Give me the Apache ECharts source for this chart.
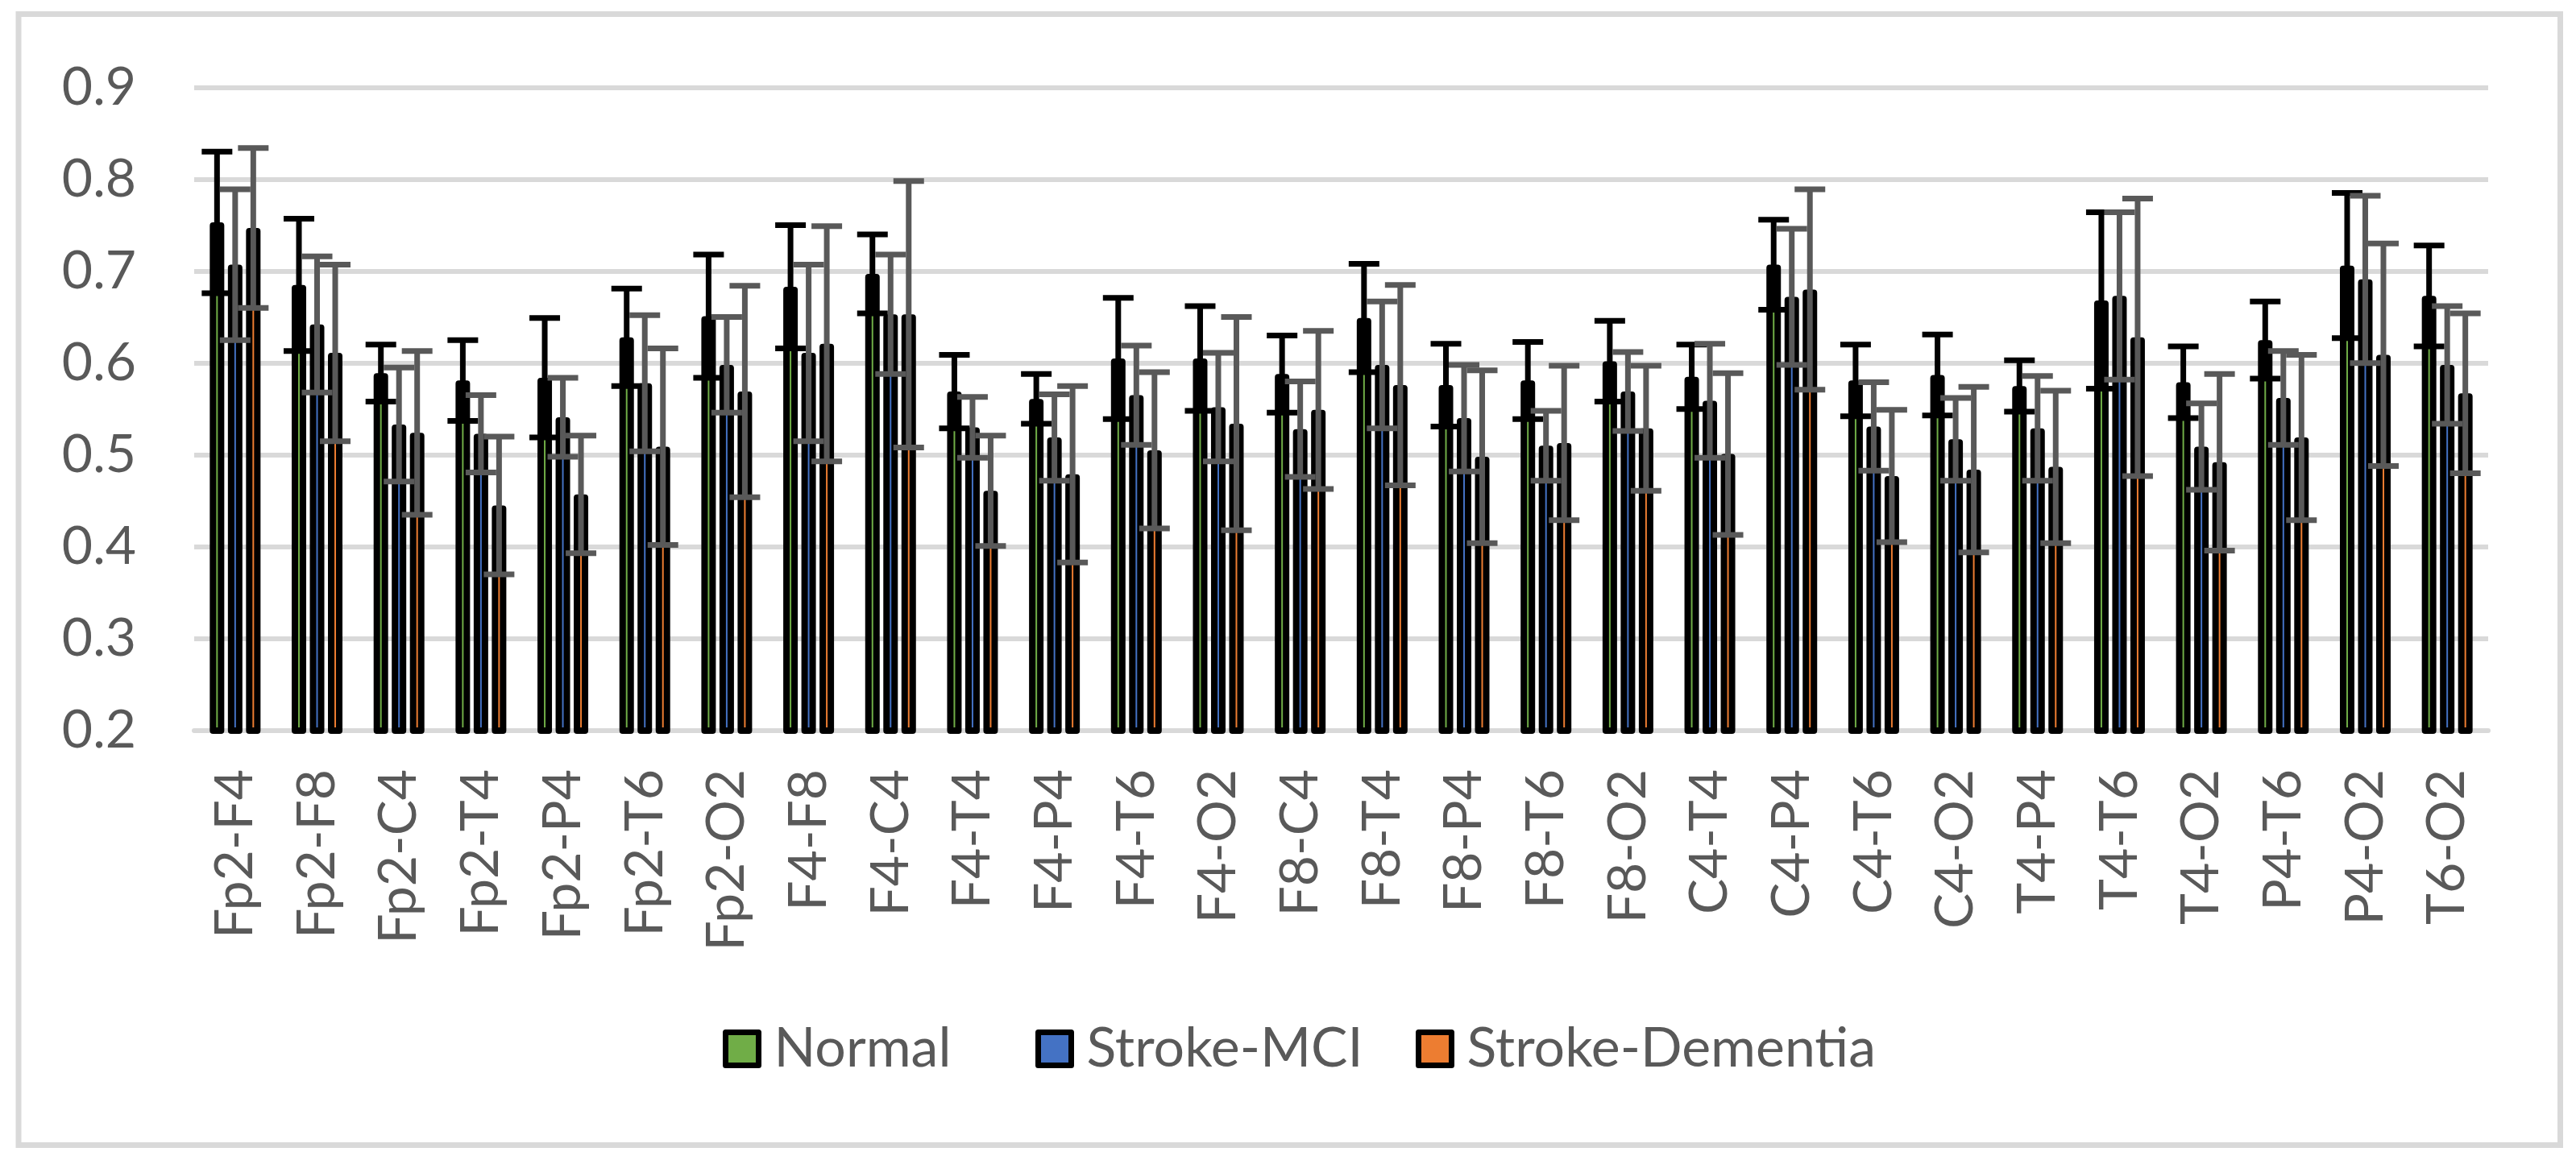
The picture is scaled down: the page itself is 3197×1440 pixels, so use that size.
<!DOCTYPE html>
<html>
<head>
<meta charset="utf-8">
<script src="https://cdn.jsdelivr.net/npm/echarts@6/dist/echarts.min.js"></script>
<style>
html,body{margin:0;padding:0;background:#fff;}
#c{width:3197px;height:1440px;}
</style>
</head>
<body>
<div id="c"></div>
<script>
const categories = ['Fp2-F4','Fp2-F8','Fp2-C4','Fp2-T4','Fp2-P4','Fp2-T6','Fp2-O2','F4-F8','F4-C4','F4-T4','F4-P4','F4-T6','F4-O2','F8-C4','F8-T4','F8-P4','F8-T6','F8-O2','C4-T4','C4-P4','C4-T6','C4-O2','T4-P4','T4-T6','T4-O2','P4-T6','P4-O2','T6-O2'];
const yTicks = [0.2,0.3,0.4,0.5,0.6,0.7,0.8,0.9];
const normal   = [0.753,0.685,0.589,0.581,0.584,0.628,0.651,0.683,0.697,0.569,0.561,0.605,0.605,0.588,0.649,0.576,0.581,0.602,0.585,0.707,0.581,0.587,0.575,0.668,0.579,0.625,0.706,0.673];
const normalSD = [0.077,0.072,0.031,0.044,0.065,0.053,0.067,0.067,0.043,0.040,0.027,0.066,0.057,0.042,0.059,0.045,0.042,0.044,0.035,0.049,0.039,0.044,0.028,0.096,0.039,0.042,0.079,0.055];
const mci      = [0.707,0.642,0.533,0.523,0.541,0.578,0.598,0.611,0.653,0.530,0.519,0.565,0.552,0.528,0.598,0.540,0.510,0.569,0.559,0.672,0.531,0.517,0.529,0.673,0.509,0.562,0.691,0.598];
const mciSD    = [0.082,0.074,0.062,0.042,0.043,0.074,0.052,0.096,0.065,0.033,0.047,0.054,0.059,0.052,0.069,0.058,0.038,0.043,0.062,0.074,0.048,0.045,0.057,0.091,0.047,0.051,0.091,0.064];
const dementia   = [0.747,0.611,0.524,0.445,0.457,0.509,0.569,0.621,0.653,0.461,0.479,0.505,0.534,0.549,0.576,0.498,0.513,0.529,0.501,0.680,0.477,0.484,0.487,0.628,0.492,0.519,0.609,0.567];
const dementiaSD = [0.087,0.096,0.089,0.075,0.064,0.107,0.115,0.128,0.145,0.060,0.096,0.085,0.116,0.086,0.109,0.094,0.084,0.068,0.088,0.109,0.072,0.090,0.083,0.151,0.096,0.090,0.121,0.087];
const seriesNames = ['Normal','Stroke-MCI','Stroke-Dementia'];

const FONT = 'Lato';
const TXT = '#595959';
const GRID = '#d9d9d9';
const BAR_W = 18, BAR_GAP = '25%', BAR_STEP = 22.5;
const LEGEND_LEFT = [892, 1280, 1752];

function barSeries(name, vals, color) {
  return {
    name: name, type: 'bar', data: vals,
    barWidth: BAR_W, barGap: BAR_GAP,
    itemStyle: {color: color, borderColor: '#000', borderWidth: 8, borderJoin: 'round'},
    z: 2
  };
}
function errSeries(vals, sds, offset, color) {
  return {
    type: 'custom', z: 5, silent: true,
    data: vals.map((v, i) => [i, v, sds[i]]),
    encode: {x: 0, y: 1},
    renderItem: function (params, api) {
      const i = api.value(0), v = api.value(1), s = api.value(2);
      const top = api.coord([i, v + s]);
      const bot = api.coord([i, v - s]);
      const x = top[0] + offset;
      const st = {stroke: color, lineWidth: 7};
      return {type: 'group', children: [
        {type: 'line', shape: {x1: x, y1: top[1], x2: x, y2: bot[1]}, style: st},
        {type: 'line', shape: {x1: x - 19, y1: top[1], x2: x + 19, y2: top[1]}, style: st},
        {type: 'line', shape: {x1: x - 19, y1: bot[1], x2: x + 19, y2: bot[1]}, style: st}
      ]};
    }
  };
}
function legendFor(name, left) {
  return {
    data: [name], left: left, top: 1263,
    icon: 'rect', itemWidth: 41, itemHeight: 41,
    itemStyle: {borderColor: '#000', borderWidth: 7},
    textStyle: {fontFamily: FONT, fontSize: 68, color: TXT, padding: [0, 0, 0, 14]}
  };
}

const chart = echarts.init(document.getElementById('c'));
chart.setOption({
  animation: false,
  backgroundColor: '#fff',
  graphic: [{
    type: 'rect', shape: {x: 23, y: 17.5, width: 3154.5, height: 1404},
    style: {fill: 'none', stroke: GRID, lineWidth: 7}, z: 0
  }],
  grid: {left: 241, right: 109, top: 108.4, bottom: 533, containLabel: false},
  legend: seriesNames.map((n, k) => legendFor(n, LEGEND_LEFT[k])),
  xAxis: {
    type: 'category', data: categories,
    axisLine: {onZero: false, lineStyle: {color: GRID, width: 6}},
    axisTick: {show: false},
    axisLabel: {rotate: 90, margin: 48, interval: 0, fontFamily: FONT, fontSize: 66, color: TXT}
  },
  yAxis: {
    type: 'value', min: yTicks[0], max: yTicks[yTicks.length - 1], interval: 0.1,
    axisLine: {show: false}, axisTick: {show: false},
    splitLine: {lineStyle: {color: GRID, width: 6}},
    axisLabel: {margin: 72, fontFamily: FONT, fontSize: 66, color: TXT,
      formatter: v => v.toFixed(1)}
  },
  series: [
    barSeries(seriesNames[0], normal, '#70ad47'),
    barSeries(seriesNames[1], mci, '#4472c4'),
    barSeries(seriesNames[2], dementia, '#ed7d31'),
    errSeries(normal, normalSD, -BAR_STEP, '#000000'),
    errSeries(mci, mciSD, 0, '#595959'),
    errSeries(dementia, dementiaSD, BAR_STEP, '#595959')
  ]
});
</script>
</body>
</html>
